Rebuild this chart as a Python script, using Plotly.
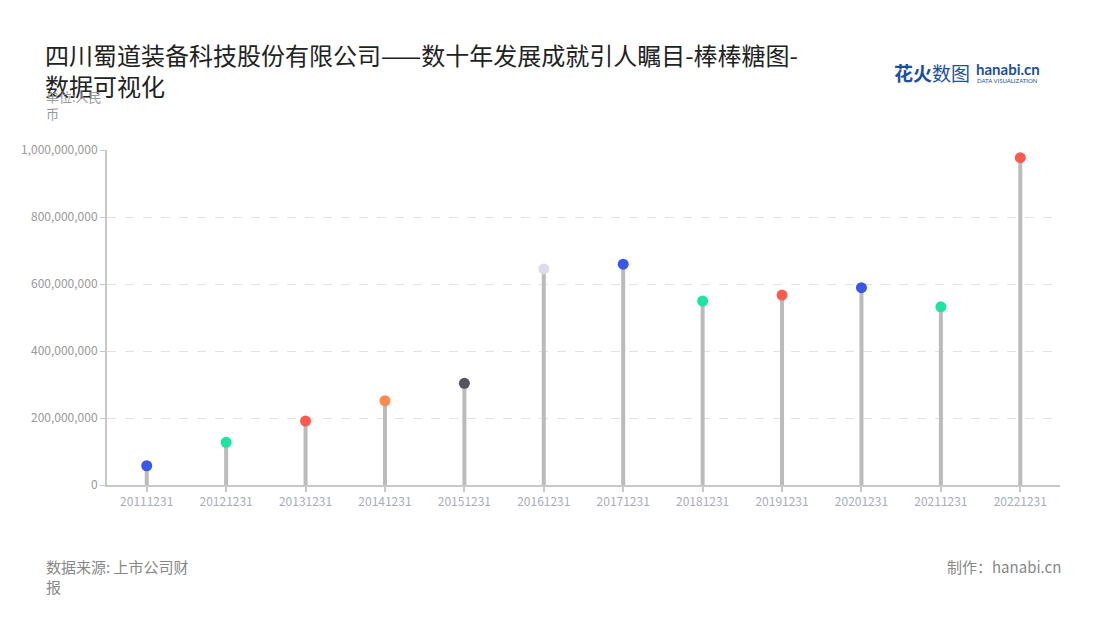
import plotly.graph_objects as go

categories = ["20111231", "20121231", "20131231", "20141231", "20151231", "20161231",
              "20171231", "20181231", "20191231", "20201231", "20211231", "20221231"]
values = [57_500_000, 127_500_000, 191_000_000, 251_500_000, 303_500_000, 645_000_000,
          659_000_000, 549_000_000, 567_000_000, 589_000_000, 532_000_000, 977_000_000]
colors = ["#3b57e8", "#1ee3a2", "#ff5a50", "#ff8b4e", "#55555f", "#dcdde8",
          "#3b57e8", "#1ee3a2", "#ff5a50", "#3b57e8", "#1ee3a2", "#ff5a50"]
y_ticks = [0, 200_000_000, 400_000_000, 600_000_000, 800_000_000, 1_000_000_000]

FONT = "Noto Sans CJK SC, Noto Sans, sans-serif"

# page offset (body margin) of the rendered html
OFF = 8
W, H = 1100, 620
L, R, T, B = 107 - OFF, 1060, 150 - OFF, 485 - OFF  # plot area in figure pixels
ML, MT = L, T
MR = W - (R - OFF)
MB = H - B

stem_x, stem_y = [], []
for c, v in zip(categories, values):
    stem_x += [c, c, None]
    stem_y += [0, v, None]

fig = go.Figure()
fig.add_trace(go.Scatter(x=stem_x, y=stem_y, mode="lines",
                         line=dict(color="#bbbbbb", width=4),
                         hoverinfo="skip", showlegend=False))
fig.add_trace(go.Scatter(x=categories, y=values, mode="markers",
                         marker=dict(color=colors, size=11, line=dict(width=0)),
                         showlegend=False))

fig.update_layout(
    width=W, height=H,
    margin=dict(l=ML, r=MR, t=MT, b=MB),
    paper_bgcolor="white", plot_bgcolor="white",
    font=dict(family=FONT),
    xaxis=dict(type="category", range=[-0.5, 11.5], showline=True, linecolor="#c8c8c8",
               linewidth=2, ticks="outside", ticklen=5, tickcolor="#c8c8c8", tickwidth=2,
               tickfont=dict(size=12, color="#a9abbd"), showgrid=False, zeroline=False,
               fixedrange=True),
    yaxis=dict(range=[0, 1_000_000_000], tickvals=y_ticks, tickformat=",d",
               showline=True, linecolor="#c8c8c8", linewidth=2, ticks="outside",
               ticklen=5, tickcolor="#c8c8c8", tickwidth=1,
               tickfont=dict(size=12, color="#999999"),
               showgrid=True, gridcolor="#e2e2e2", griddash="dash", gridwidth=1,
               zeroline=False, fixedrange=True),
)

# annotations positioned in reference page pixels (left/top)
annotations = [
    dict(text="四川蜀道装备科技股份有限公司——数十年发展成就引人瞩目-棒棒糖图-<br>数据可视化",
         x=43, y=35, xanchor="left", yanchor="top", align="left",
         font=dict(size=24, color="#222222", family=FONT)),
    dict(text="单位:人民<br>币", x=44, y=85, xanchor="left", yanchor="top", align="left",
         font=dict(size=13, color="#999999", family=FONT)),
    dict(text="数据来源: 上市公司财<br>报", x=44, y=554, xanchor="left", yanchor="top",
         align="left", font=dict(size=15, color="#888888", family=FONT)),
    dict(text="制作：hanabi.cn", x=1063, y=554, xanchor="right", yanchor="top",
         align="right", font=dict(size=15, color="#888888", family=FONT)),
    dict(text="<b>花火</b>数图", x=892, y=72, xanchor="left", yanchor="middle",
         font=dict(size=19, color="#1d4fa0", family=FONT)),
    dict(text="<b>hanabi.cn</b>", x=974, y=69, xanchor="left", yanchor="middle",
         font=dict(size=15, color="#1d4fa0", family="Lato, sans-serif")),
    dict(text="DATA VISUALIZATION", x=975, y=80, xanchor="left", yanchor="middle",
         font=dict(size=6, color="#1d4fa0", family="Lato, sans-serif")),
]
pw = W - ML - MR
ph = H - MT - MB
for a in annotations:
    a["xref"] = "paper"
    a["yref"] = "paper"
    a["showarrow"] = False
    px = a["x"] - OFF
    py = a["y"] - OFF
    a["x"] = (px - ML) / pw
    a["y"] = (H - MB - py) / ph
fig.update_layout(annotations=annotations)

fig.write_html("out.html")
